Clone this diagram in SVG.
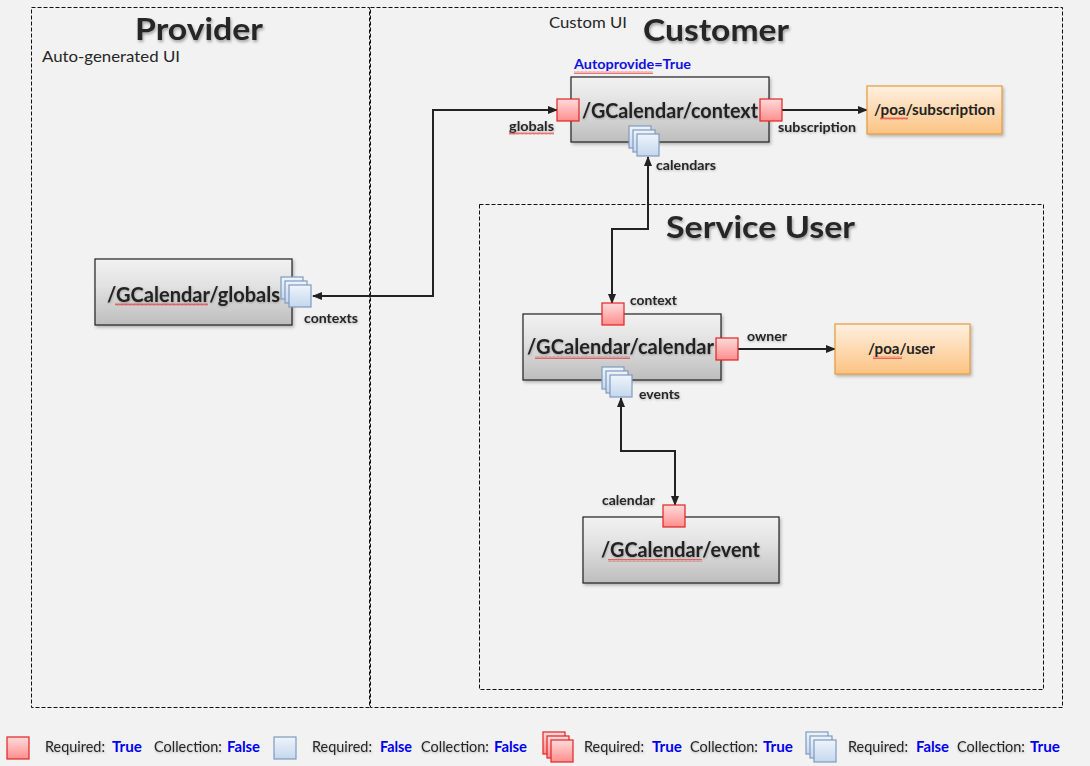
<svg xmlns="http://www.w3.org/2000/svg" width="1090" height="766" viewBox="0 0 1090 766">
<defs>
<linearGradient id="gNode" x1="0" y1="0" x2="0" y2="1"><stop offset="0" stop-color="#f2f2f2"/><stop offset="0.4" stop-color="#e2e2e2"/><stop offset="1" stop-color="#bdbdbd"/></linearGradient>
<linearGradient id="gOrange" x1="0" y1="0" x2="0" y2="1"><stop offset="0" stop-color="#fff0e0"/><stop offset="1" stop-color="#fcc383"/></linearGradient>
<linearGradient id="gRed" x1="0" y1="0" x2="0" y2="1"><stop offset="0" stop-color="#ffdada"/><stop offset="1" stop-color="#ff8e8e"/></linearGradient>
<linearGradient id="gBlue" x1="0" y1="0" x2="0" y2="1"><stop offset="0" stop-color="#eef4fb"/><stop offset="1" stop-color="#c5d7ee"/></linearGradient>
<filter id="shadow" x="-10%" y="-10%" width="130%" height="140%"><feDropShadow dx="1.5" dy="2" stdDeviation="1.5" flood-color="#000" flood-opacity="0.25"/></filter>
<filter id="tshadow" x="-10%" y="-20%" width="130%" height="160%"><feDropShadow dx="1" dy="2" stdDeviation="1.5" flood-color="#000" flood-opacity="0.35"/></filter>
<filter id="lshadow" x="-10%" y="-20%" width="130%" height="160%"><feDropShadow dx="0.5" dy="1" stdDeviation="0.8" flood-color="#000" flood-opacity="0.25"/></filter>
<pattern id="wavy" width="4" height="3" patternUnits="userSpaceOnUse"><path d="M0 2.5 L1 0.5 L2 2.5 L3 0.5 L4 2.5" fill="none" stroke="#e02020" stroke-width="0.6"/></pattern>
<marker id="arr" viewBox="0 0 10 8" refX="9" refY="4" markerWidth="10" markerHeight="8" markerUnits="userSpaceOnUse" orient="auto-start-reverse"><path d="M0 0 L10 4 L0 8 Z" fill="#222"/></marker>
<g id="redPort"><rect x="0" y="0" width="22" height="22" fill="url(#gRed)" stroke="#e02424" stroke-width="1.2"/></g>
<g id="bluePort"><rect x="0" y="0" width="22" height="22" fill="url(#gBlue)" stroke="#7f9bbf" stroke-width="1.2"/></g>
<g id="blueStack"><use href="#bluePort" x="0" y="0"/><use href="#bluePort" x="4" y="4"/><use href="#bluePort" x="8" y="8"/></g>
<g id="redStack"><use href="#redPort" x="0" y="0"/><use href="#redPort" x="4" y="4"/><use href="#redPort" x="8" y="8"/></g>
</defs>
<style>
.zone{fill:none;stroke:#111;stroke-width:1;stroke-dasharray:4 2}
.node{fill:url(#gNode);stroke:#222;stroke-width:1.2;filter:url(#shadow)}
.onode{fill:url(#gOrange);stroke:#e39a3e;stroke-width:1.2;filter:url(#shadow)}
.title{font-family:Lato,"Liberation Sans",sans-serif;font-weight:700;font-size:30px;fill:#262626;filter:url(#tshadow)}
.sub{font-family:Lato,"Liberation Sans",sans-serif;font-size:16px;fill:#262626}
.ntext{font-family:Lato,"Liberation Sans",sans-serif;font-weight:700;font-size:21px;fill:#222;filter:url(#lshadow)}
.otext{font-family:Lato,"Liberation Sans",sans-serif;font-weight:700;font-size:15px;fill:#222}
.lbl{font-family:Lato,"Liberation Sans",sans-serif;font-weight:700;font-size:13px;fill:#262626;filter:url(#lshadow)}
.auto{font-family:Lato,"Liberation Sans",sans-serif;font-weight:700;font-size:13px;fill:#1010e0}
.leg{font-family:Lato,"Liberation Sans",sans-serif;font-size:14.5px;fill:#262626;filter:url(#lshadow)}
.legv{font-family:Lato,"Liberation Sans",sans-serif;font-weight:700;font-size:14.5px;fill:#0000ee}
.conn{fill:none;stroke:#222;stroke-width:2}
</style>
<rect x="0" y="0" width="1090" height="766" fill="#f2f2f2"/>

<g id="provider">
<rect class="zone" x="31.5" y="7.5" width="338" height="700"/>
<text class="title" x="199" y="40" text-anchor="middle" textLength="128" lengthAdjust="spacingAndGlyphs">Provider</text>
<text class="sub" x="42" y="62" textLength="138" lengthAdjust="spacingAndGlyphs">Auto-generated UI</text>
</g>
<g id="customer">
<rect class="zone" x="370.5" y="7.5" width="692" height="700"/>
<text class="title" x="643" y="41" textLength="146" lengthAdjust="spacingAndGlyphs">Customer</text>
<text class="sub" x="549" y="28" font-size="15" textLength="78" lengthAdjust="spacingAndGlyphs">Custom UI</text>
</g>
<g id="serviceUser">
<rect class="zone" x="479.5" y="204.5" width="564" height="485"/>
<text class="title" x="666" y="238" textLength="189" lengthAdjust="spacingAndGlyphs">Service User</text>
</g>

<g id="connectors">
<path class="conn" d="M313 296 H433 V110 H557" marker-start="url(#arr)" marker-end="url(#arr)"/>
<path class="conn" d="M648 157 V229 H612 V303" marker-start="url(#arr)" marker-end="url(#arr)"/>
<path class="conn" d="M621 398 V451 H675 V505" marker-start="url(#arr)" marker-end="url(#arr)"/>
<path class="conn" d="M782 110 H867" marker-end="url(#arr)"/>
<path class="conn" d="M738 349 H835" marker-end="url(#arr)"/>
</g>

<g id="node-context">
<rect class="node" x="571" y="77" width="198" height="65"/>
<text class="ntext" x="582" y="118" textLength="176" lengthAdjust="spacingAndGlyphs">/GCalendar/context</text>
<text class="auto" x="574" y="69" textLength="117" lengthAdjust="spacingAndGlyphs">Autoprovide=True</text>
<rect x="574" y="71" width="79" height="3" fill="url(#wavy)"/>
<use href="#redPort" x="557" y="99"/>
<use href="#redPort" x="760" y="99"/>
<use href="#blueStack" x="629" y="126"/>
<text class="lbl" x="509" y="131" textLength="45" lengthAdjust="spacingAndGlyphs">globals</text>
<rect x="509" y="132" width="45" height="3" fill="url(#wavy)"/>
<text class="lbl" x="778" y="132" textLength="78" lengthAdjust="spacingAndGlyphs">subscription</text>
<text class="lbl" x="656" y="170" textLength="60" lengthAdjust="spacingAndGlyphs">calendars</text>
</g>

<g id="node-subscription">
<rect class="onode" x="867" y="86" width="135" height="48"/>
<text class="otext" x="874" y="115" textLength="121" lengthAdjust="spacingAndGlyphs">/poa/subscription</text>
<rect x="880" y="117" width="28" height="3" fill="url(#wavy)"/>
</g>

<g id="node-globals">
<rect class="node" x="95" y="259" width="197" height="66"/>
<text class="ntext" x="107" y="302" textLength="173" lengthAdjust="spacingAndGlyphs">/GCalendar/globals</text>
<rect x="115" y="303" width="93" height="3" fill="url(#wavy)"/>
<use href="#blueStack" x="281" y="277"/>
<text class="lbl" x="304" y="323" textLength="54" lengthAdjust="spacingAndGlyphs">contexts</text>
</g>

<g id="node-calendar">
<rect class="node" x="523" y="314" width="198" height="66"/>
<text class="ntext" x="527" y="354" textLength="187" lengthAdjust="spacingAndGlyphs">/GCalendar/calendar</text>
<rect x="535" y="356" width="95" height="3" fill="url(#wavy)"/>
<use href="#redPort" x="602" y="303"/>
<use href="#redPort" x="716" y="338"/>
<use href="#blueStack" x="602" y="367"/>
<text class="lbl" x="630" y="305" textLength="47" lengthAdjust="spacingAndGlyphs">context</text>
<text class="lbl" x="747" y="341" textLength="40" lengthAdjust="spacingAndGlyphs">owner</text>
<text class="lbl" x="639" y="399" textLength="41" lengthAdjust="spacingAndGlyphs">events</text>
</g>

<g id="node-user">
<rect class="onode" x="835" y="324" width="135" height="50"/>
<text class="otext" x="868" y="354" textLength="67" lengthAdjust="spacingAndGlyphs">/poa/user</text>
<rect x="873" y="356" width="29" height="3" fill="url(#wavy)"/>
</g>

<g id="node-event">
<rect class="node" x="583" y="517" width="196" height="66"/>
<text class="ntext" x="601" y="557" textLength="159" lengthAdjust="spacingAndGlyphs">/GCalendar/event</text>
<rect x="608" y="559" width="94" height="3" fill="url(#wavy)"/>
<use href="#redPort" x="663" y="505"/>
<text class="lbl" x="602" y="505" textLength="53" lengthAdjust="spacingAndGlyphs">calendar</text>
</g>

<g id="legend">
<use href="#redPort" x="7" y="737"/>
<text class="leg" x="45" y="752" textLength="60" lengthAdjust="spacingAndGlyphs">Required:</text>
<text class="legv" x="112" y="752" textLength="30" lengthAdjust="spacingAndGlyphs">True</text>
<text class="leg" x="154" y="752" textLength="68" lengthAdjust="spacingAndGlyphs">Collection:</text>
<text class="legv" x="227" y="752" textLength="33" lengthAdjust="spacingAndGlyphs">False</text>
<use href="#bluePort" x="274" y="737"/>
<text class="leg" x="312" y="752" textLength="60" lengthAdjust="spacingAndGlyphs">Required:</text>
<text class="legv" x="380" y="752" textLength="32" lengthAdjust="spacingAndGlyphs">False</text>
<text class="leg" x="421" y="752" textLength="68" lengthAdjust="spacingAndGlyphs">Collection:</text>
<text class="legv" x="494" y="752" textLength="33" lengthAdjust="spacingAndGlyphs">False</text>
<use href="#redStack" x="543" y="732"/>
<text class="leg" x="584" y="752" textLength="60" lengthAdjust="spacingAndGlyphs">Required:</text>
<text class="legv" x="652" y="752" textLength="30" lengthAdjust="spacingAndGlyphs">True</text>
<text class="leg" x="690" y="752" textLength="68" lengthAdjust="spacingAndGlyphs">Collection:</text>
<text class="legv" x="763" y="752" textLength="30" lengthAdjust="spacingAndGlyphs">True</text>
<use href="#blueStack" x="806" y="732"/>
<text class="leg" x="848" y="752" textLength="60" lengthAdjust="spacingAndGlyphs">Required:</text>
<text class="legv" x="916" y="752" textLength="33" lengthAdjust="spacingAndGlyphs">False</text>
<text class="leg" x="957" y="752" textLength="68" lengthAdjust="spacingAndGlyphs">Collection:</text>
<text class="legv" x="1030" y="752" textLength="30" lengthAdjust="spacingAndGlyphs">True</text>
</g>
</svg>
